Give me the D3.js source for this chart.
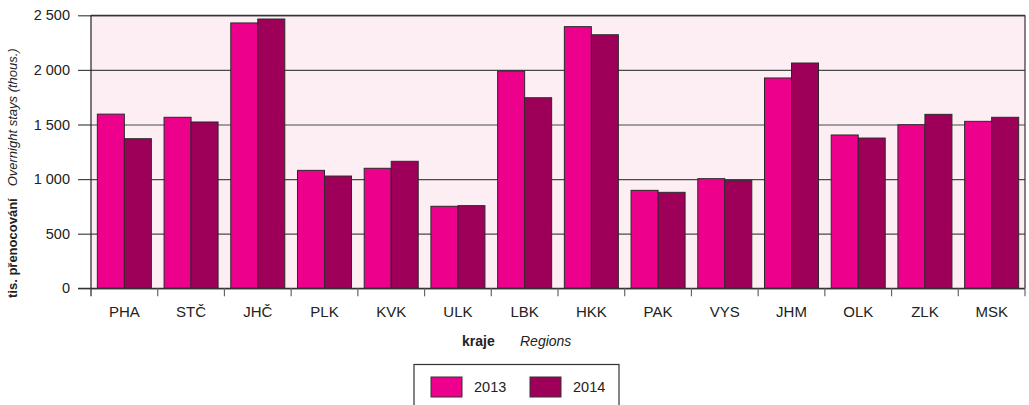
<!DOCTYPE html>
<html>
<head>
<meta charset="utf-8">
<script src="https://cdn.jsdelivr.net/npm/d3@7"></script>
<style>
  html, body { margin: 0; padding: 0; background: #fff; }
  svg { display: block; font-family: "Liberation Sans", Arial, Helvetica, sans-serif; }
</style>
</head>
<body>
<svg id="chart" width="1029" height="405"></svg>
<script>
// Regions of the Czech Republic
const regions = ["PHA", "STČ", "JHČ", "PLK", "KVK", "ULK", "LBK", "HKK", "PAK", "VYS", "JHM", "OLK", "ZLK", "MSK"];
const years = ["2013", "2014"];
// Overnight stays, thousands
const stays2013 = [1595, 1566, 2430, 1080, 1099, 751, 1990, 2396, 897, 1004, 1926, 1404, 1498, 1529];
const stays2014 = [1370, 1523, 2466, 1028, 1163, 757, 1745, 2322, 879, 989, 2063, 1376, 1593, 1566];
const yTicks = [0, 500, 1000, 1500, 2000, 2500];
const colors = ["#EC008C", "#9E0059"];

const svg = d3.select("#chart");
const plot = { left: 91, right: 1025, top: 15.3, bottom: 288.3 };

const x = d3.scaleBand().domain(regions).range([plot.left, plot.right]).padding(0);
const xYear = d3.scaleBand().domain(years).range([0, x.bandwidth()]).paddingInner(0).paddingOuter(0.235);
const y = d3.scaleLinear().domain([0, 2500]).range([plot.bottom, plot.top]);
const color = d3.scaleOrdinal().domain(years).range(colors);

const fmt = v => d3.format(",")(v).replace(/,/g, " ");

// plot background
svg.append("rect")
  .attr("x", plot.left).attr("y", plot.top)
  .attr("width", plot.right - plot.left).attr("height", plot.bottom - plot.top)
  .attr("fill", "#FDEEF4");

// horizontal gridlines with tick stubs on the left
const yAxis = d3.axisLeft(y).tickValues(yTicks).tickFormat(fmt)
  .tickSize(-(plot.right - plot.left));
const gy = svg.append("g").attr("transform", `translate(${plot.left},0)`).call(yAxis);
gy.select(".domain").remove();
gy.selectAll(".tick line").attr("stroke", "#4a4a4a").attr("stroke-width", 1.2);
gy.selectAll(".tick").append("line")
  .attr("x1", -13).attr("x2", 0).attr("stroke", "#444").attr("stroke-width", 1.2);
gy.selectAll(".tick text")
  .attr("fill", "#222").style("font-size", "14.5px")
  .attr("x", -21);

// bars
const rows = regions.map((r, i) => ({ region: r, values: [
  { year: years[0], value: stays2013[i] },
  { year: years[1], value: stays2014[i] }
]}));

const groups = svg.append("g").selectAll("g").data(rows).join("g")
  .attr("transform", d => `translate(${x(d.region)},0)`);
groups.selectAll("rect").data(d => d.values).join("rect")
  .attr("x", d => xYear(d.year))
  .attr("y", d => y(d.value))
  .attr("width", xYear.bandwidth())
  .attr("height", d => y(0) - y(d.value))
  .attr("fill", d => color(d.year))
  .attr("stroke", "#2a2a2a")
  .attr("stroke-width", 1);

// frame: top and right borders, left axis line, baseline
svg.append("line").attr("x1", plot.left).attr("x2", plot.right).attr("y1", plot.top).attr("y2", plot.top)
  .attr("stroke", "#333").attr("stroke-width", 1.2);
svg.append("line").attr("x1", plot.right).attr("x2", plot.right).attr("y1", plot.top).attr("y2", plot.bottom)
  .attr("stroke", "#333").attr("stroke-width", 1.2);
svg.append("line").attr("x1", plot.left).attr("x2", plot.left).attr("y1", plot.top).attr("y2", plot.bottom + 8)
  .attr("stroke", "#222").attr("stroke-width", 1.2);
svg.append("line").attr("x1", plot.left - 13).attr("x2", plot.right).attr("y1", plot.bottom).attr("y2", plot.bottom)
  .attr("stroke", "#333").attr("stroke-width", 1.2);

// category axis: ticks at band boundaries, labels centred
const xAxis = d3.axisBottom(x).tickSize(0).tickPadding(18);
const gx = svg.append("g").attr("transform", `translate(0,${plot.bottom})`).call(xAxis);
gx.select(".domain").remove();
gx.selectAll(".tick text").attr("fill", "#222").style("font-size", "15px");
svg.append("g").selectAll("line").data(regions.slice(1)).join("line")
  .attr("x1", d => x(d)).attr("x2", d => x(d))
  .attr("y1", plot.bottom).attr("y2", plot.bottom + 8)
  .attr("stroke", "#666").attr("stroke-width", 1.2);
svg.append("line").attr("x1", plot.right).attr("x2", plot.right)
  .attr("y1", plot.bottom).attr("y2", plot.bottom + 8)
  .attr("stroke", "#666").attr("stroke-width", 1.2);

// axis titles
const xt = svg.append("text").attr("x", 462).attr("y", 345.5)
  .attr("fill", "#222").style("font-size", "14px");
xt.append("tspan").attr("font-weight", "bold").text("kraje");
xt.append("tspan").attr("x", 520).attr("font-style", "italic").text("Regions");

const yt = svg.append("text")
  .attr("transform", "translate(17,298) rotate(-90)")
  .attr("fill", "#222").style("font-size", "13px");
yt.append("tspan").attr("font-weight", "bold").text("tis. přenocování");
yt.append("tspan").attr("dx", 12).attr("font-style", "italic").text("Overnight stays (thous.)");

// legend
const legend = svg.append("g");
legend.append("rect").attr("x", 414).attr("y", 364.5).attr("width", 205).attr("height", 50)
  .attr("fill", "#fff").attr("stroke", "#333").attr("stroke-width", 1.2);
const items = legend.selectAll("g").data(years).join("g")
  .attr("transform", (d, i) => `translate(${431 + i * 99},377)`);
items.append("rect").attr("width", 31).attr("height", 20)
  .attr("fill", d => color(d)).attr("stroke", "#333").attr("stroke-width", 1);
items.append("text").attr("x", 43).attr("y", 15)
  .attr("fill", "#222").style("font-size", "14.5px").text(d => d);
</script>
</body>
</html>
